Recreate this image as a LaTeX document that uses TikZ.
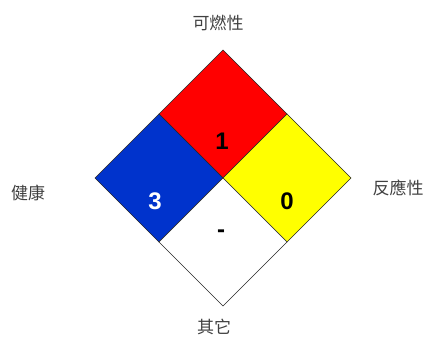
\documentclass[tikz,border=0pt]{standalone}
\usepackage{fontspec}
\setmainfont{Liberation Sans}
\newfontfamily\cjk{Noto Sans CJK TC}
\definecolor{healthblue}{RGB}{0,51,204}
\definecolor{firered}{RGB}{255,0,0}
\definecolor{reactyellow}{RGB}{255,255,0}
\definecolor{labelgray}{RGB}{64,64,64}
\tikzset{
  square/.style={draw=black!85,line width=0.6pt,line join=miter},
  rating/.style={font=\fontsize{24}{24}\selectfont\bfseries},
  hazard/.style={font=\cjk\fontsize{17}{17}\selectfont,text=labelgray}
}
\begin{document}
\begin{tikzpicture}[x=1pt,y=-1pt]
    \useasboundingbox (0,0) rectangle (425,337);
    % corners of the diamond
    \coordinate (top) at (223,50);
    \coordinate (left) at (95,178);
    \coordinate (right) at (351,178);
    \coordinate (bottom) at (223,306);
    \coordinate (mid) at (223,178);
    \coordinate (tl) at (159,114);
    \coordinate (tr) at (287,114);
    \coordinate (bl) at (159,242);
    \coordinate (br) at (287,242);
    % the four squares
    \draw[square,fill=firered] (top) -- (tl) -- (mid) -- (tr) -- cycle;
    \draw[square,fill=healthblue] (tl) -- (left) -- (bl) -- (mid) -- cycle;
    \draw[square,fill=reactyellow] (tr) -- (mid) -- (br) -- (right) -- cycle;
    \draw[square,fill=white] (mid) -- (bl) -- (bottom) -- (br) -- cycle;
    % ratings
    \node[rating] (flam) at (222,141) {1};
    \node[rating,text=white] (health) at (155,201) {3};
    \node[rating] (react) at (287,201) {0};
    \node[rating] (special) at (221,234) {-};
    % labels
    \node[hazard] (flamlabel) at (218,23) {可燃性};
    \node[hazard] (healthlabel) at (28,193) {健康};
    \node[hazard] (reactlabel) at (398,188) {反應性};
    \node[hazard] (speciallabel) at (214,327) {其它};
\end{tikzpicture}
\end{document}
